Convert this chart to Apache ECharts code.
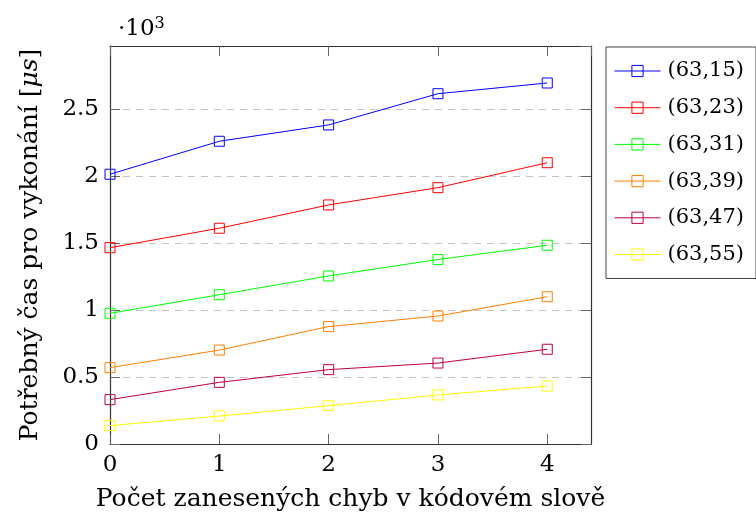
<!DOCTYPE html>
<html>
<head>
<meta charset="utf-8">
<script src="https://cdn.jsdelivr.net/npm/echarts@6/dist/echarts.min.js"></script>
<style>html,body{margin:0;padding:0;background:#fff}#c{width:756px;height:522px}</style>
</head>
<body>
<div id="c"></div>
<script>
const xValues = [0, 1, 2, 3, 4];
const seriesNames = ['(63,15)', '(63,23)', '(63,31)', '(63,39)', '(63,47)', '(63,55)'];
const s6315 = [2.013, 2.259, 2.381, 2.614, 2.694];
const s6323 = [1.465, 1.610, 1.784, 1.913, 2.099];
const s6331 = [0.975, 1.114, 1.254, 1.377, 1.483];
const s6339 = [0.570, 0.701, 0.876, 0.955, 1.099];
const s6347 = [0.331, 0.460, 0.555, 0.604, 0.707];
const s6355 = [0.137, 0.209, 0.286, 0.366, 0.433];
const yTickLabels = ['0', '0.5', '1', '1.5', '2', '2.5'];
const seriesValues = [s6315, s6323, s6331, s6339, s6347, s6355];
const colors = ['#0000ff', '#ff0000', '#00ff00', '#ff8000', '#bf0040', '#ffff00'];

const FONT = 'DejaVu Serif';
const chart = echarts.init(document.getElementById('c'), null, {renderer: 'canvas'});

const series = seriesNames.map((n, i) => ({
  name: n,
  type: 'line',
  xAxisIndex: 0,
  yAxisIndex: 0,
  data: xValues.map((x, j) => [x, seriesValues[i][j]]),
  symbol: 'rect',
  symbolSize: 10,
  showAllSymbol: true,
  lineStyle: {color: colors[i], width: 1},
  itemStyle: {color: 'rgba(255,255,255,0)', borderColor: colors[i], borderWidth: 1},
  emphasis: {disabled: true},
  z: 3
}));

const axisLineStyle = {color: '#333', width: 1.2};
const tickStyle = {color: '#666', width: 1};

chart.setOption({
  animation: false,
  backgroundColor: '#fff',
  title: {
    text: '·10{sup|3}',
    left: 118, top: 16, padding: 0,
    textStyle: {
      fontFamily: FONT, fontSize: 23, fontWeight: 'normal', color: '#000',
      rich: {sup: {fontFamily: FONT, fontSize: 16, color: '#000', padding: [0, 0, 11, 0]}}
    }
  },
  grid: {left: 110, top: 46, right: 165, bottom: 78, containLabel: false},
  legend: {
    orient: 'vertical',
    left: 606, top: 47,
    padding: [13, 12, 13, 8],
    itemWidth: 46, itemHeight: 14, itemGap: 14.7,
    borderColor: '#444', borderWidth: 1,
    itemStyle: {borderWidth: 1},
    lineStyle: {width: 1},
    textStyle: {fontFamily: FONT, fontSize: 21, color: '#000', lineHeight: 22, padding: [0, 0, 0, 2]},
    data: seriesNames
  },
  xAxis: [{
    type: 'value', position: 'bottom', min: 0, max: 4.4, interval: 1,
    name: 'Počet zanesených chyb v kódovém slově',
    nameLocation: 'middle', nameGap: 43,
    nameTextStyle: {fontFamily: FONT, fontSize: 25, color: '#000'},
    axisLine: {show: true, lineStyle: axisLineStyle},
    axisTick: {show: true, inside: true, length: 10, lineStyle: tickStyle},
    axisLabel: {show: true, fontFamily: FONT, fontSize: 23, color: '#000', margin: 10, showMaxLabel: false,
      formatter: v => String(v)},
    splitLine: {show: false}
  }, {
    type: 'value', position: 'top', min: 0, max: 4.4, interval: 1,
    axisLine: {show: true, onZero: false, lineStyle: axisLineStyle},
    axisTick: {show: true, inside: true, length: 10, lineStyle: tickStyle},
    axisLabel: {show: false},
    splitLine: {show: false}
  }],
  yAxis: [{
    type: 'value', position: 'left', min: 0, max: 2.97, interval: 0.5,
    name: 'Potřebný čas pro vykonání [{i|μs}]',
    nameLocation: 'middle', nameGap: 67, nameRotate: 90,
    nameTextStyle: {fontFamily: FONT, fontSize: 25, color: '#000',
      rich: {i: {fontFamily: FONT, fontSize: 25, fontStyle: 'italic', color: '#000'}}},
    axisLine: {show: true, onZero: false, lineStyle: axisLineStyle},
    axisTick: {show: true, inside: true, length: 10, lineStyle: tickStyle},
    axisLabel: {show: true, fontFamily: FONT, fontSize: 23, color: '#000', margin: 11, showMaxLabel: false,
      formatter: v => { const k = Math.round(v * 2); return k < yTickLabels.length ? yTickLabels[k] : ''; }},
    splitLine: {show: true, lineStyle: {color: '#c4c4c4', width: 1, type: [7, 6]}}
  }, {
    type: 'value', position: 'right', min: 0, max: 2.97, interval: 0.5,
    axisLine: {show: true, onZero: false, lineStyle: axisLineStyle},
    axisTick: {show: true, inside: true, length: 10, lineStyle: tickStyle},
    axisLabel: {show: false},
    splitLine: {show: false}
  }],
  series: series
});
</script>
</body>
</html>
